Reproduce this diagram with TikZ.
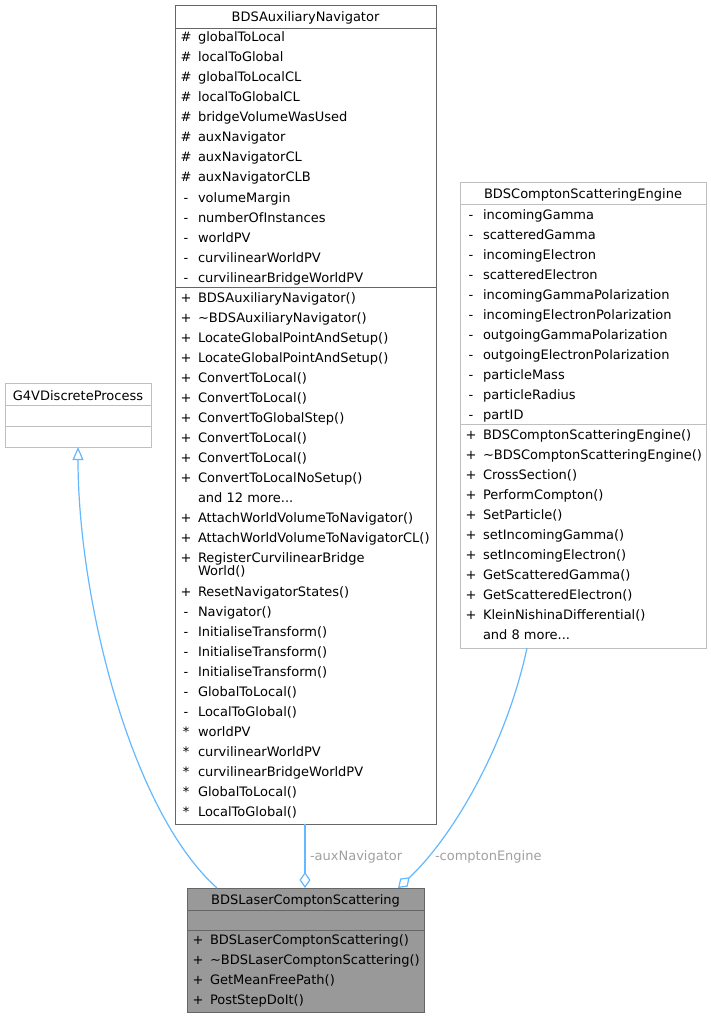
\documentclass[tikz,border=0pt]{standalone}
\usepackage{fontspec}
\setmainfont{DejaVu Sans}
\usetikzlibrary{arrows.meta,calc}
\definecolor{edge}{HTML}{63B8FF}
\definecolor{darkb}{HTML}{666666}
\definecolor{lightb}{HTML}{BFBFBF}
\definecolor{lblgray}{HTML}{A0A0A0}
\definecolor{laserfill}{HTML}{999999}
\begin{document}
\begin{tikzpicture}[x=1pt,y=-1pt,
  txt/.style={inner sep=0pt,outer sep=0pt,font=\fontsize{13}{16}\selectfont,text=black},
  sym/.style={txt,anchor=base},
  nm/.style={txt,anchor=base west},
  ttl/.style={txt,anchor=base},
  cls/.style={draw=#1,line width=0.9pt,inner sep=0pt,outer sep=0pt,anchor=north west,fill=white},
  sep/.style={draw=#1,line width=0.9pt},
  conn/.style={draw=edge,line width=1.2pt},
  lbl/.style={txt,anchor=base west,text=lblgray}]
\useasboundingbox (0,0) rectangle (711,1019);
% ---------- G4VDiscreteProcess
\node[cls=lightb,minimum width=146,minimum height=64] (g4v) at (5,383) {};
\draw[sep=lightb] (g4v.west|-0,405) -- (g4v.east|-0,405);
\draw[sep=lightb] (g4v.west|-0,426) -- (g4v.east|-0,426);
\node[ttl] (g4vT) at (78,400) {G4VDiscreteProcess};
% ---------- BDSAuxiliaryNavigator
\node[cls=darkb,minimum width=261,minimum height=819] (aux) at (175,5) {};
\draw[sep=darkb] (aux.west|-0,28) -- (aux.east|-0,28);
\draw[sep=darkb] (aux.west|-0,287) -- (aux.east|-0,287);
\node[ttl] (auxT) at (305.5,22) {BDSAuxiliaryNavigator};
\foreach \s/\t [count=\i from 0] in {\#/globalToLocal,\#/localToGlobal,\#/globalToLocalCL,\#/localToGlobalCL,\#/bridgeVolumeWasUsed,\#/auxNavigator,\#/auxNavigatorCL,\#/auxNavigatorCLB,-/volumeMargin,-/numberOfInstances,-/worldPV,-/curvilinearWorldPV,-/curvilinearBridgeWorldPV}{
  \node[sym] (auxAs\i) at (186,42+20*\i) {\s};
  \node[nm] (auxAt\i) at (198,42+20*\i) {\t};
}
\foreach \t [count=\i from 0] in {BDSAuxiliaryNavigator(),\textasciitilde BDSAuxiliaryNavigator(),LocateGlobalPointAndSetup(),LocateGlobalPointAndSetup(),ConvertToLocal(),ConvertToLocal(),ConvertToGlobalStep(),ConvertToLocal(),ConvertToLocal(),ConvertToLocalNoSetup()}{
  \node[sym] (auxMs\i) at (186,302+20*\i) {+};
  \node[nm] (auxMt\i) at (198,302+20*\i) {\t};
}
\node[nm] (auxMore) at (198,502) {and 12 more...};
\node[sym] (auxB1s) at (186,522) {+};
\node[nm] (auxB1t) at (198,522) {AttachWorldVolumeToNavigator()};
\node[sym] (auxB2s) at (186,542) {+};
\node[nm] (auxB2t) at (198,542) {AttachWorldVolumeToNavigatorCL()};
\node[sym] (auxB3s) at (186,562) {+};
\node[nm] (auxB3t) at (198,562) {RegisterCurvilinearBridge};
\node[nm] (auxB3u) at (198,575) {World()};
\foreach \s/\t [count=\i from 0] in {+/ResetNavigatorStates(),-/Navigator(),-/InitialiseTransform(),-/InitialiseTransform(),-/InitialiseTransform(),-/GlobalToLocal(),-/LocalToGlobal(),*/worldPV,*/curvilinearWorldPV,*/curvilinearBridgeWorldPV,*/GlobalToLocal(),*/LocalToGlobal()}{
  \node[sym] (auxCs\i) at (186,596+20*\i) {\s};
  \node[nm] (auxCt\i) at (198,596+20*\i) {\t};
}
% ---------- BDSComptonScatteringEngine
\node[cls=lightb,minimum width=246,minimum height=466] (cse) at (460,182) {};
\draw[sep=lightb] (cse.west|-0,204) -- (cse.east|-0,204);
\draw[sep=lightb] (cse.west|-0,424) -- (cse.east|-0,424);
\node[ttl] (cseT) at (583,198) {BDSComptonScatteringEngine};
\foreach \t [count=\i from 0] in {incomingGamma,scatteredGamma,incomingElectron,scatteredElectron,incomingGammaPolarization,incomingElectronPolarization,outgoingGammaPolarization,outgoingElectronPolarization,particleMass,particleRadius,partID}{
  \node[sym] (cseAs\i) at (471,219+20*\i) {-};
  \node[nm] (cseAt\i) at (483,219+20*\i) {\t};
}
\foreach \t [count=\i from 0] in {BDSComptonScatteringEngine(),\textasciitilde BDSComptonScatteringEngine(),CrossSection(),PerformCompton(),SetParticle(),setIncomingGamma(),setIncomingElectron(),GetScatteredGamma(),GetScatteredElectron(),KleinNishinaDifferential()}{
  \node[sym] (cseMs\i) at (471,439+20*\i) {+};
  \node[nm] (cseMt\i) at (483,439+20*\i) {\t};
}
\node[nm] (cseMore) at (483,639) {and 8 more...};
% ---------- BDSLaserComptonScattering
\node[cls=darkb,fill=laserfill,minimum width=237,minimum height=124] (laser) at (187,888) {};
\draw[sep=darkb] (laser.west|-0,910) -- (laser.east|-0,910);
\draw[sep=darkb] (laser.west|-0,930) -- (laser.east|-0,930);
\node[ttl] (laserT) at (305.5,904) {BDSLaserComptonScattering};
\foreach \t [count=\i from 0] in {BDSLaserComptonScattering(),\textasciitilde BDSLaserComptonScattering(),GetMeanFreePath(),PostStepDoIt()}{
  \node[sym] (laserMs\i) at (198,944+20*\i) {+};
  \node[nm] (laserMt\i) at (210,944+20*\i) {\t};
}
% ---------- connectors
\draw[conn,-{Triangle[open,length=13pt,width=11pt,fill=white]}]
  ($(laser.north west)+(30,0)$) .. controls ($(laser.north west)+(-57,-78)$) and ($(g4v.south)+(0,150)$) .. (g4v.south);
\draw[conn,-{Diamond[open,length=16pt,width=11pt,fill=white]}]
  (aux.south-|305,0) -- (laser.north-|305,0);
\node[lbl] (auxLbl) at (310,860) {-auxNavigator};
\draw[conn,-{Diamond[open,length=16pt,width=11pt,fill=white]}]
  (cse.south-|527,0) .. controls (505,750) and (450,840) .. (laser.north-|398,0);
\node[lbl] (cseLbl) at (435,860) {-comptonEngine};
\end{tikzpicture}
\end{document}
